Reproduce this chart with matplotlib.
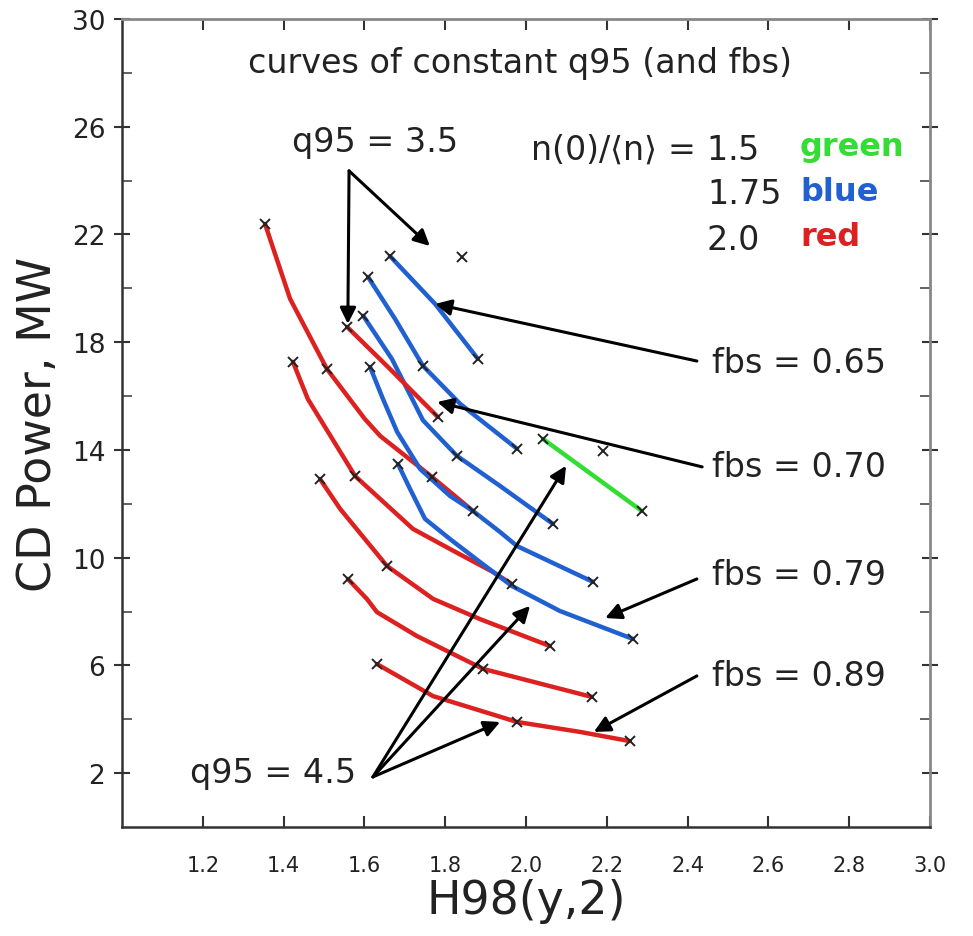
import matplotlib
matplotlib.use('Agg')
import matplotlib.pyplot as plt

# ---------------- data (H98(y,2), CD power MW) ----------------
# red : n(0)/<n> = 2.0
red1_h98 = [1.354, 1.416, 1.507, 1.601, 1.639, 1.767, 1.869]
red1_pcd = [22.39, 19.61, 17.01, 15.15, 14.52, 13.00, 11.73]
red1_marks = [0, 2, 5, 6]

red2_h98 = [1.423, 1.460, 1.577, 1.639, 1.720, 1.812, 1.918, 1.965]
red2_pcd = [17.27, 15.89, 13.03, 12.18, 11.07, 10.32, 9.47, 9.02]
red2_marks = [0, 2, 7]

red3_h98 = [1.490, 1.540, 1.656, 1.770, 1.886, 2.059]
red3_pcd = [12.92, 11.81, 9.69, 8.47, 7.72, 6.72]
red3_marks = [0, 2, 5]

red4_h98 = [1.559, 1.606, 1.631, 1.730, 1.894, 2.163]
red4_pcd = [9.21, 8.47, 7.98, 7.09, 5.87, 4.83]
red4_marks = [0, 4, 5]

red5_h98 = [1.631, 1.770, 1.978, 2.134, 2.257]
red5_pcd = [6.05, 4.86, 3.90, 3.53, 3.19]
red5_marks = [0, 2, 4]

red6_h98 = [1.557, 1.663, 1.782]
red6_pcd = [18.57, 17.01, 15.22]
red6_marks = [0, 2]

# blue : n(0)/<n> = 1.75
blue1_h98 = [1.663, 1.775, 1.881]
blue1_pcd = [21.20, 19.42, 17.38]
blue1_marks = [0, 2]

blue2_h98 = [1.609, 1.676, 1.745, 1.837, 1.978]
blue2_pcd = [20.42, 18.86, 17.12, 15.71, 14.04]
blue2_marks = [0, 2, 4]

blue3_h98 = [1.597, 1.668, 1.745, 1.829, 1.936, 2.067]
blue3_pcd = [18.98, 17.38, 15.10, 13.78, 12.66, 11.25]
blue3_marks = [0, 3, 5]

blue4_h98 = [1.614, 1.646, 1.681, 1.738, 1.812, 1.869, 1.936, 1.978, 2.166]
blue4_pcd = [17.08, 15.89, 14.67, 13.29, 12.29, 11.73, 10.95, 10.43, 9.10]
blue4_marks = [0, 8]

blue5_h98 = [1.683, 1.713, 1.750, 1.812, 1.886, 1.965, 2.084, 2.265]
blue5_pcd = [13.48, 12.55, 11.44, 10.69, 9.84, 8.95, 8.02, 6.98]
blue5_marks = [0, 7]

# green : n(0)/<n> = 1.5
green1_h98 = [2.042, 2.287]
green1_pcd = [14.41, 11.73]
green1_marks = [0, 1]

# isolated q95 = 3.5 points
extra_h98 = [1.842, 2.191]
extra_pcd = [21.17, 13.96]

x_ticks = [1.2, 1.4, 1.6, 1.8, 2.0, 2.2, 2.4, 2.6, 2.8, 3.0]
x_tick_labels = ['1.2', '1.4', '1.6', '1.8', '2.0', '2.2', '2.4', '2.6', '2.8', '3.0']
y_ticks = [2, 6, 10, 14, 18, 22, 26, 30]
y_minor_ticks = [4, 8, 12, 16, 20, 24, 28]

RED = '#dd2020'
BLUE = '#2060d0'
GREEN = '#33dd33'

fig = plt.figure(figsize=(9.73, 9.37), dpi=100)
ax = fig.add_axes([0.1254, 0.1163, 0.8304, 0.8624])
ax.set_xlim(1.0, 3.0)
ax.set_ylim(0, 30)

curves = [
    (red1_h98, red1_pcd, red1_marks, RED),
    (red2_h98, red2_pcd, red2_marks, RED),
    (red3_h98, red3_pcd, red3_marks, RED),
    (red4_h98, red4_pcd, red4_marks, RED),
    (red5_h98, red5_pcd, red5_marks, RED),
    (blue1_h98, blue1_pcd, blue1_marks, BLUE),
    (blue2_h98, blue2_pcd, blue2_marks, BLUE),
    (blue3_h98, blue3_pcd, blue3_marks, BLUE),
    (blue4_h98, blue4_pcd, blue4_marks, BLUE),
    (blue5_h98, blue5_pcd, blue5_marks, BLUE),
    (red6_h98, red6_pcd, red6_marks, RED),
    (green1_h98, green1_pcd, green1_marks, GREEN),
]
for xs, ys, mk, col in curves:
    ax.plot(xs, ys, color=col, lw=3.2, solid_capstyle='round', solid_joinstyle='round', zorder=2)
    ax.plot([xs[i] for i in mk], [ys[i] for i in mk], linestyle='none', marker='x',
            color='#222222', ms=7, mew=1.4, zorder=3)
ax.plot(extra_h98, extra_pcd, linestyle='none', marker='x', color='#222222', ms=7, mew=1.4, zorder=3)

# ---------------- axes styling ----------------
for side in ['left', 'bottom']:
    ax.spines[side].set_color('#333333')
    ax.spines[side].set_linewidth(1.8)
for side in ['right', 'top']:
    ax.spines[side].set_color('#888888')
    ax.spines[side].set_linewidth(2.0)

ax.set_xticks(x_ticks)
ax.set_xticklabels(x_tick_labels)
ax.set_yticks(y_ticks)
ax.set_yticks(y_minor_ticks, minor=True)
ax.tick_params(axis='x', which='major', direction='in', length=8, width=1.5,
               top=True, bottom=True, labelsize=15, pad=20, colors='#333333', labelcolor='#222222')
ax.tick_params(axis='y', which='major', direction='inout', length=12, width=1.5,
               left=True, right=True, labelsize=19, pad=6, colors='#333333', labelcolor='#222222')
ax.tick_params(axis='y', which='minor', direction='in', length=7, width=1.3,
               left=True, right=True, colors='#555555')

ax.set_xlabel('H98(y,2)', fontsize=33, labelpad=2, color='#222222')
ax.set_ylabel('CD Power, MW', fontsize=33, labelpad=8, color='#222222')

# ---------------- annotations ----------------
TXT = 24
ax.text(1.985, 28.37, 'curves of constant q95 (and fbs)', fontsize=TXT, ha='center', va='center', color='#222222')
ax.text(1.626, 25.44, 'q95 = 3.5', fontsize=TXT, ha='center', va='center', color='#222222')
ax.text(2.010, 25.18, r'n(0)/$\langle$n$\rangle$ = 1.5', fontsize=TXT, ha='left', va='center', color='#222222')
ax.text(2.448, 23.51, '1.75', fontsize=TXT, ha='left', va='center', color='#222222')
ax.text(2.448, 21.83, '2.0', fontsize=TXT, ha='left', va='center', color='#222222')
ax.text(2.678, 25.25, 'green', fontsize=TXT - 1, ha='left', va='center', color=GREEN, fontweight='bold')
ax.text(2.678, 23.58, 'blue', fontsize=TXT - 1, ha='left', va='center', color=BLUE, fontweight='bold')
ax.text(2.678, 21.91, 'red', fontsize=TXT - 1, ha='left', va='center', color=RED, fontweight='bold')
ax.text(2.460, 17.23, 'fbs = 0.65', fontsize=TXT, ha='left', va='center', color='#222222')
ax.text(2.460, 13.37, 'fbs = 0.70', fontsize=TXT, ha='left', va='center', color='#222222')
ax.text(2.460, 9.39, 'fbs = 0.79', fontsize=TXT, ha='left', va='center', color='#222222')
ax.text(2.460, 5.61, 'fbs = 0.89', fontsize=TXT, ha='left', va='center', color='#222222')
ax.text(1.168, 2.04, 'q95 = 4.5', fontsize=TXT, ha='left', va='center', color='#222222')

arrow_kw = dict(arrowstyle='-|>', mutation_scale=24, lw=2.2, color='black',
                shrinkA=0, shrinkB=0)
arrows = [
    ((1.562, 24.36), (1.559, 18.68)),
    ((1.562, 24.36), (1.762, 21.57)),
    ((2.423, 17.30), (1.775, 19.42)),
    ((2.436, 13.37), (1.780, 15.78)),
    ((2.423, 9.21), (2.196, 7.76)),
    ((2.423, 5.61), (2.168, 3.53)),
    ((1.621, 1.86), (1.936, 3.90)),
    ((1.621, 1.86), (2.010, 8.21)),
    ((1.621, 1.86), (2.099, 13.41)),
]
for tail, head in arrows:
    ax.annotate('', xy=head, xytext=tail, arrowprops=arrow_kw, zorder=4)

fig.savefig('out.png', dpi=100)
